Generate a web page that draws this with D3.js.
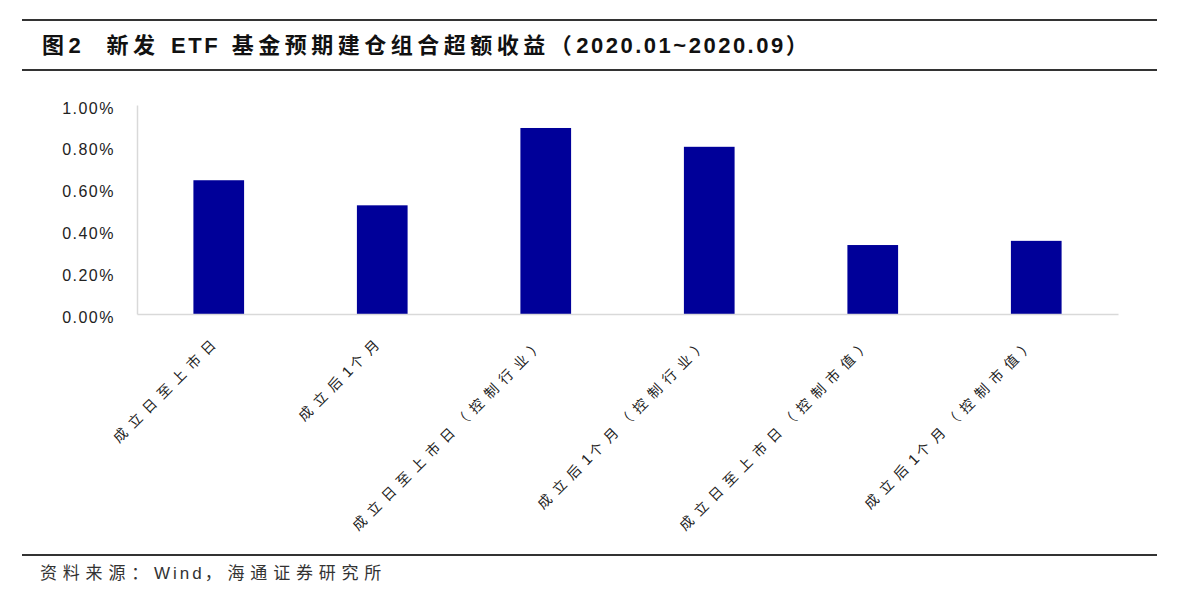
<!DOCTYPE html>
<html><head><meta charset="utf-8">
<script src="https://cdn.jsdelivr.net/npm/d3@7"></script>
<style>
html,body{margin:0;padding:0;background:#fff;}
svg{display:block;}
</style></head>
<body>
<svg id="c" width="1180" height="599"></svg>
<script>
const categories = ["成立日至上市日","成立后1个月","成立日至上市日（控制行业）","成立后1个月（控制行业）","成立日至上市日（控制市值）","成立后1个月（控制市值）"];
const values = [0.0064, 0.0052, 0.0089, 0.0080, 0.0033, 0.0035];
const yTicks = [0, 0.002, 0.004, 0.006, 0.008, 0.010];
const titleText = "图2  新发 ETF 基金预期建仓组合超额收益（2020.01~2020.09）";
const sourceText = "资料来源：Wind，海通证券研究所";

const svg = d3.select("#c");
const latinFont = "'Liberation Sans', Arial, sans-serif";
const cjkFont = "'Noto Sans CJK SC', sans-serif";

// split text into runs of CJK / Latin and append as tspans with separate styling
function runs(str){
  const out = [];
  for (const ch0 of str){
    const ch = ch0 === " " ? "\u00a0" : ch0;
    const isCjk = /[\u3000-\u9fff\uff00-\uffef]/.test(ch);
    if (out.length && out[out.length-1].cjk === isCjk) out[out.length-1].t += ch;
    else out.push({t:ch, cjk:isCjk});
  }
  return out;
}
function fillRuns(sel, str, o){
  sel.selectAll("tspan").data(runs(str)).join("tspan")
    .text(d=>d.t)
    .style("font-family",d=>d.cjk?cjkFont:latinFont)
    .style("font-size",d=>(d.cjk?o.cjkSize:o.latSize)+"px")
    .style("letter-spacing",d=>(d.cjk?o.cjkLs:o.latLs)+"px")
    .style("word-spacing",(o.ws||0)+"px");
}

// header rules
[20,70,555].forEach(yy=>svg.append("line").attr("x1",22).attr("x2",1157).attr("y1",yy).attr("y2",yy)
  .attr("stroke","#333").attr("stroke-width",2));

const title = svg.append("text").attr("x",42).attr("y",53).attr("fill","#111")
  .attr("xml:space","preserve").style("font-weight","bold");
fillRuns(title, titleText, {cjkSize:22, cjkLs:4.5, latSize:22, latLs:2.5, ws:3});

const src = svg.append("text").attr("x",40).attr("y",579).attr("fill","#333");
fillRuns(src, sourceText, {cjkSize:17, cjkLs:5.8, latSize:17, latLs:3});

const x0 = 137, x1 = 1118, yTop = 105, yBot = 314;
const x = d3.scaleBand().domain(categories).range([x0,x1]).paddingInner(0.69).paddingOuter(0.345);
const y = d3.scaleLinear().domain([0,0.01]).range([yBot,yTop]);

// y axis
const yAxis = d3.axisLeft(y).tickValues(yTicks).tickFormat(d3.format(".2%")).tickSize(0).tickPadding(22);
const ga = svg.append("g").attr("transform",`translate(${x0},0)`).call(yAxis);
ga.select(".domain").attr("stroke","#d9d9d9").attr("stroke-width",1.5);
ga.selectAll("text").style("font-family",latinFont).style("font-size","16px")
  .style("letter-spacing","1.5px").attr("fill","#222").attr("dy","0.5em");

// bars
svg.append("g").selectAll("rect").data(values).join("rect")
  .attr("x",(d,i)=>x(categories[i])).attr("width",x.bandwidth())
  .attr("y",d=>y(d)).attr("height",d=>yBot-y(d)).attr("fill","#000099");

// x axis
const xAxis = d3.axisBottom(x).tickSize(0).tickFormat("");
const gx = svg.append("g").attr("transform",`translate(0,${yBot})`).call(xAxis);
gx.select(".domain").attr("stroke","#d9d9d9").attr("stroke-width",1.5);

const ls = 6.7;
svg.append("g").selectAll("text").data(categories).join("text")
  .attr("transform",d=>`translate(${x(d)+x.bandwidth()/2-2},${yBot+32}) rotate(-45)`)
  .attr("text-anchor","end").attr("dx",ls)
  .attr("fill","#222")
  .each(function(d){ fillRuns(d3.select(this), d, {cjkSize:14, cjkLs:ls, latSize:15, latLs:2.5}); });
</script>
</body></html>
